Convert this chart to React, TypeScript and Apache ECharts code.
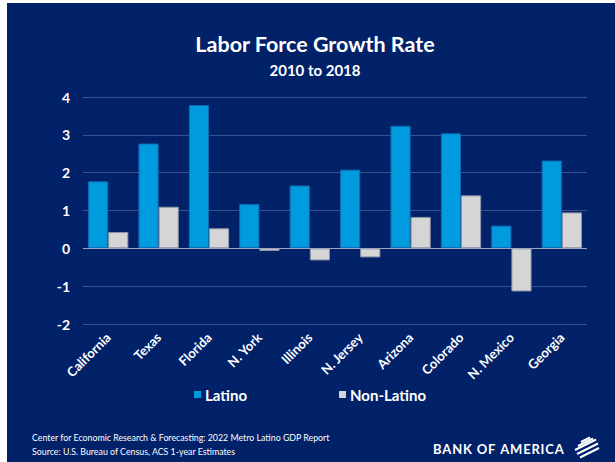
import React, { useEffect, useRef } from "react";
import * as echarts from "echarts";

const categories = ["California", "Texas", "Florida", "N. York", "Illinois", "N. Jersey", "Arizona", "Colorado", "N. Mexico", "Georgia"];
const latino = [1.77, 2.77, 3.79, 1.17, 1.66, 2.08, 3.24, 3.04, 0.6, 2.32];
const nonLatino = [0.43, 1.1, 0.53, -0.07, -0.32, -0.24, 0.83, 1.4, -1.14, 0.95];
const seriesNames = ["Latino", "Non-Latino"];
const titleText = "Labor Force Growth Rate";
const subtitleText = "2010 to 2018";
const footnotes = [
  "Center for Economic Research & Forecasting: 2022 Metro Latino GDP Report",
  "Source: U.S. Bureau of Census, ACS 1-year Estimates",
];
const brandText = "BANK OF AMERICA";

const NAVY = "#012169";
const BLUE = "#009BDE";
const GRAY = "#D5D5D5";
const FONT = "Lato, 'Open Sans', sans-serif";

export default function App() {
  const ref = useRef<HTMLDivElement>(null);
  useEffect(() => {
    if (!ref.current) return;
    const chart = echarts.init(ref.current, null, { renderer: "svg" });
    const flagLines = [
      [581, 442, 590, 437.5],
      [578, 446, 593, 438.5],
      [575, 450, 596, 439.5],
      [577, 454, 598, 443.5],
      [580, 457.5, 599, 448],
    ].map(([x1, y1, x2, y2]) => ({
      type: "line",
      shape: { x1, y1, x2, y2 },
      style: { stroke: "#ffffff", lineWidth: 2 },
    }));
    chart.setOption({
      animation: false,
      backgroundColor: "#ffffff",
      textStyle: { fontFamily: FONT },
      graphic: [
        { type: "rect", z: -10, shape: { x: 7, y: 3, width: 608, height: 459 }, style: { fill: NAVY } },
        {
          type: "text",
          x: 315,
          y: 44,
          style: { text: titleText, fill: "#fff", font: `bold 21.5px ${FONT}`, textAlign: "center", textVerticalAlign: "middle" },
        },
        {
          type: "text",
          x: 315,
          y: 70,
          style: { text: subtitleText, fill: "#fff", font: `bold 15px ${FONT}`, textAlign: "center", textVerticalAlign: "middle" },
        },
        {
          type: "text",
          x: 32,
          y: 437,
          style: { text: footnotes[0], fill: "#fff", font: `8.8px ${FONT}`, textAlign: "left", textVerticalAlign: "middle" },
        },
        {
          type: "text",
          x: 32,
          y: 451,
          style: { text: footnotes[1], fill: "#fff", font: `8.8px ${FONT}`, textAlign: "left", textVerticalAlign: "middle" },
        },
        {
          type: "text",
          x: 433,
          y: 449,
          style: { text: brandText.split("").join("\u200A"), fill: "#fff", font: `bold 13px ${FONT}`, textAlign: "left", textVerticalAlign: "middle" },
        },
        ...flagLines,
      ],
      legend: {
        left: 189,
        top: 382,
        itemWidth: 7,
        itemHeight: 7,
        itemGap: 92,
        icon: "rect",
        data: seriesNames,
        itemStyle: { borderWidth: 0 },
        textStyle: { color: "#fff", fontSize: 15, fontWeight: "bold", fontFamily: FONT, padding: [0, 0, 0, -1] },
      },
      grid: { left: 83, right: 28, top: 97, bottom: 138, containLabel: false },
      xAxis: {
        type: "category",
        data: categories,
        axisLine: { show: false },
        axisTick: { show: false },
        axisLabel: { rotate: 45, color: "#fff", fontSize: 13, fontWeight: "bold", margin: 11, interval: 0, fontFamily: FONT },
      },
      yAxis: {
        type: "value",
        min: -2,
        max: 4,
        interval: 1,
        axisLine: { show: false },
        axisTick: { show: false },
        axisLabel: { color: "#fff", fontSize: 14, fontWeight: "bold", margin: 13, fontFamily: FONT },
        splitLine: { lineStyle: { color: "#3a4f8e", width: 1 } },
      },
      series: [
        {
          name: seriesNames[0],
          type: "bar",
          data: latino,
          barGap: "0%",
          barCategoryGap: "20%",
          itemStyle: { color: BLUE, borderColor: "#0F6BB0", borderWidth: 1 },
          markLine: {
            silent: true,
            symbol: "none",
            label: { show: false },
            lineStyle: { color: "#9AA3BE", width: 1, type: "solid" },
            data: [{ yAxis: 0 }],
          },
        },
        {
          name: seriesNames[1],
          type: "bar",
          data: nonLatino,
          itemStyle: { color: GRAY, borderColor: "#8E94A8", borderWidth: 1 },
        },
      ],
    });
    return () => chart.dispose();
  }, []);
  return (
    <div
      ref={ref}
      style={{ position: "fixed", left: 0, top: 0, width: 615, height: 462 }}
    />
  );
}
